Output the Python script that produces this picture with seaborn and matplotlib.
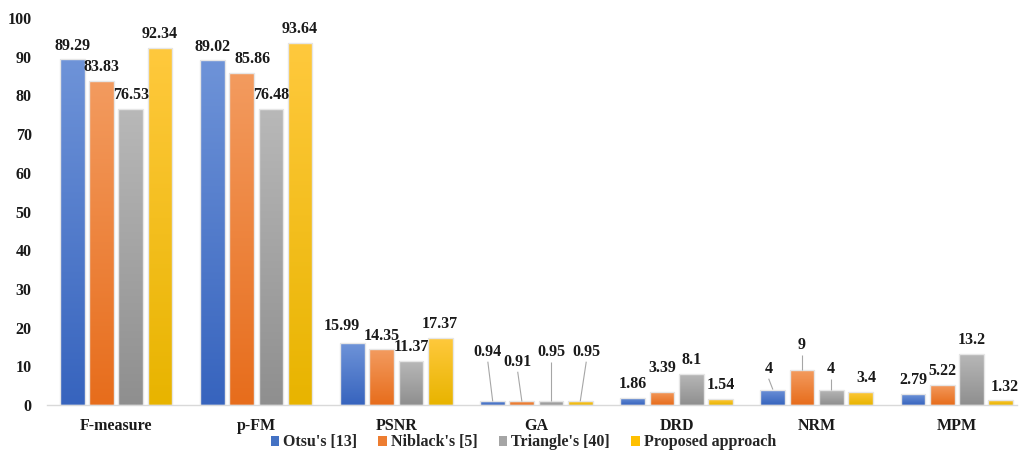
import numpy as np
import pandas as pd
import seaborn as sns
import matplotlib.pyplot as plt
from matplotlib.colors import to_rgb

# ---- data -------------------------------------------------------------
metrics = ["F-measure", "p-FM", "PSNR", "GA", "DRD", "NRM", "MPM"]
methods = ["Otsu's [13]", "Niblack's [5]", "Triangle's [40]", "Proposed approach"]
otsu = [89.29, 89.02, 15.99, 0.94, 1.86, 4, 2.79]
niblack = [83.83, 85.86, 14.35, 0.91, 3.39, 9, 5.22]
triangle = [76.53, 76.48, 11.37, 0.95, 8.1, 4, 13.2]
proposed = [92.34, 93.64, 17.37, 0.95, 1.54, 3.4, 1.32]
y_ticks = [0, 10, 20, 30, 40, 50, 60, 70, 80, 90, 100]

# top / bottom gradient colours per method
grad_top = ["#6e93d8", "#f39b5f", "#b8b8b8", "#ffc93d"]
grad_bottom = ["#3764be", "#e76d1c", "#8f8f8f", "#e8b400"]
legend_colors = ["#4472c4", "#ed7d31", "#a5a5a5", "#ffc000"]

# label placement tweaks: (method, metric) -> (x shift, label height, leader line)
label_tweaks = {
    (1, 1): (0.08, None, False),
    (0, 2): (-0.08, 20.3, False),
    (0, 3): (-0.035, 13.7, True),
    (1, 3): (-0.03, 11.1, True),
    (2, 3): (0.0, 13.7, True),
    (3, 3): (0.043, 13.7, True),
    (1, 4): (0.0, 9.6, False),
    (0, 5): (-0.03, 9.3, True),
    (1, 5): (0.0, 15.5, True),
    (2, 5): (0.0, 9.3, True),
    (3, 5): (0.04, None, False),
    (3, 6): (0.03, 4.6, False),
}

df = pd.DataFrame({
    "metric": np.tile(metrics, len(methods)),
    "method": np.repeat(methods, len(metrics)),
    "value": np.concatenate([otsu, niblack, triangle, proposed]),
})

# ---- figure -----------------------------------------------------------
sns.set_style("white")
plt.rcParams["font.family"] = ["Liberation Serif", "DejaVu Serif"]
plt.rcParams["font.weight"] = "bold"

fig = plt.figure(figsize=(10.2, 4.59), dpi=100)
ax = fig.add_axes([0.046, 0.1176, 0.951, 0.8432])

sns.barplot(data=df, x="metric", y="value", hue="method",
            order=metrics, hue_order=methods, palette=legend_colors,
            width=0.833, gap=0.15, ax=ax, legend=False, saturation=1)

xlim = (-0.495, 6.43)
ylim = (0, 100)

series = [otsu, niblack, triangle, proposed]
for mi, cont in enumerate(ax.containers):
    top = np.array(to_rgb(grad_top[mi]))
    bot = np.array(to_rgb(grad_bottom[mi]))
    for ci, bar in enumerate(cont):
        x0, w, h = bar.get_x(), bar.get_width(), bar.get_height()
        t = np.linspace(0, 1, 64)[:, None]
        img = (top * (1 - t) + bot * t)[:, None, :]
        im = ax.imshow(img, extent=[x0, x0 + w, 0, h], aspect="auto",
                       origin="upper", zorder=2, interpolation="bilinear")
        im.set_clip_path(bar)
        bar.set_facecolor("none")
        bar.set_edgecolor("#e6e6e6")
        bar.set_linewidth(1.0)
        bar.set_zorder(3)

        val = series[mi][ci]
        cx = x0 + w / 2
        dx, ly, leader = label_tweaks.get((mi, ci), (0.0, None, False))
        if ly is None:
            ly = h + 3.6
        ax.text(cx + dx, ly, f"{val:g}", ha="center", va="center",
                fontsize=11.5, fontweight="bold", color="#1a1a1a", zorder=5)
        if leader:
            ax.plot([cx + dx, cx], [ly - 2.5, h], color="#a6a6a6",
                    lw=0.8, zorder=4, solid_capstyle="butt")

ax.set_xlim(*xlim)
ax.set_ylim(*ylim)
ax.set_yticks(y_ticks)
ax.set_xlabel("")
ax.set_ylabel("")
ax.tick_params(axis="both", length=0, labelsize=11.5, colors="#1a1a1a")
ax.tick_params(axis="x", pad=9)
ax.tick_params(axis="y", pad=11)
for lab in ax.get_xticklabels() + ax.get_yticklabels():
    lab.set_fontweight("bold")

for side in ["top", "right", "left"]:
    ax.spines[side].set_visible(False)
ax.spines["bottom"].set_color("#d9d9d9")
ax.spines["bottom"].set_linewidth(1.0)

handles = [plt.Rectangle((0, 0), 1, 1, facecolor=c, edgecolor="none")
           for c in legend_colors]
fig.legend(handles, methods, loc="center", bbox_to_anchor=(0.513, 0.036),
           ncol=4, frameon=False, handlelength=0.55,
           handleheight=0.55, handletextpad=0.25, columnspacing=1.3,
           prop={"weight": "bold", "size": 11.5})

fig.savefig("out.png", dpi=100)
